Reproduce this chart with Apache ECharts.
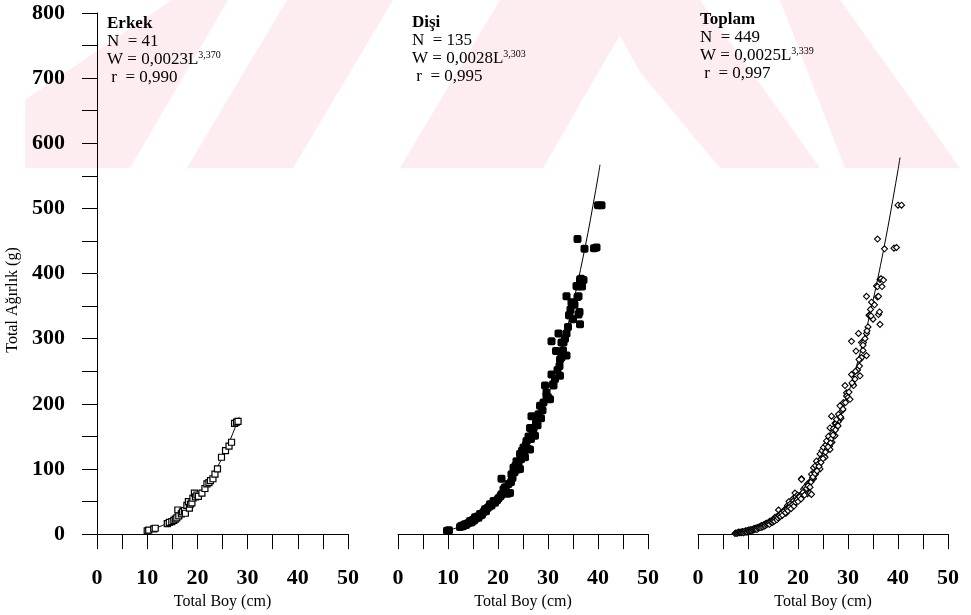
<!DOCTYPE html>
<html><head><meta charset="utf-8">
<script src="https://cdn.jsdelivr.net/npm/echarts@6/dist/echarts.min.js"></script>
<style>html,body{margin:0;padding:0;background:#fff}#c{width:971px;height:615px}</style>
</head><body><div id="c"></div>
<script>
// ---- data ----
const erkek = [[10.0,5],[10.3,6],[11.3,8],[11.6,9],[14.0,16],[14.4,18],[14.9,19],[15.3,21],[15.6,23],[15.9,25],[16.1,37],[16.3,28],[16.8,31],[17.0,34],[17.4,36],[17.6,32],[17.9,44],[18.2,50],[18.4,40],[18.6,46],[18.9,48],[19.1,55],[19.4,63],[19.6,57],[19.9,60],[20.2,58],[20.9,63],[21.5,70],[21.9,77],[22.3,79],[22.6,82],[23.1,85],[23.5,92],[24.0,100],[24.8,118],[25.6,128],[26.3,135],[26.8,141],[27.4,170],[27.8,172],[28.1,173]];
const disi = [[9.8,5],[10.2,6],[12.4,11],[12.7,13],[13.0,12],[13.2,14],[13.4,15],[13.6,14],[13.8,16],[14.1,17],[14.4,20],[14.6,18],[14.8,19],[15.0,22],[15.2,21],[15.4,26],[15.6,24],[15.9,27],[16.1,25],[16.4,31],[16.6,29],[16.8,30],[17.1,34],[17.4,38],[17.6,35],[17.9,40],[18.2,42],[18.4,46],[18.7,44],[19.1,51],[19.4,48],[19.8,52],[20.1,55],[20.5,58],[20.7,61],[20.7,85],[21.1,69],[21.4,72],[21.6,66],[21.9,62],[22.1,77],[22.4,63],[22.6,80],[22.7,92],[22.9,86],[23.1,102],[23.3,95],[23.5,105],[23.7,112],[23.9,99],[24.1,108],[24.4,100],[24.4,123],[24.6,115],[24.8,128],[25.1,133],[25.2,120],[25.4,118],[25.6,137],[25.7,143],[25.9,131],[26.1,150],[26.4,130],[26.4,163],[26.6,146],[26.7,181],[26.9,155],[27.1,162],[27.4,151],[27.6,170],[27.7,176],[27.9,167],[28.1,184],[28.4,197],[28.6,178],[28.9,190],[29.1,202],[29.4,228],[29.7,217],[29.7,212],[30.0,210],[30.4,207],[30.7,245],[30.7,296],[31.0,230],[31.1,228],[31.4,238],[31.6,281],[31.9,252],[32.1,308],[32.3,258],[32.4,268],[32.4,243],[32.7,271],[32.7,294],[33.0,282],[33.1,294],[33.4,300],[33.7,308],[33.7,274],[33.7,365],[34.0,318],[34.2,336],[34.3,336],[34.5,345],[34.7,356],[35.0,330],[35.3,352],[35.7,381],[35.9,364],[35.9,380],[36.1,337],[36.1,365],[36.3,341],[36.4,322],[36.4,391],[36.6,392],[36.8,380],[37.1,390],[35.9,453],[37.3,438],[39.2,439],[39.7,440],[40.0,505],[40.7,505]];
const cinsiyetsiz = [[7.4,1],[7.6,2],[7.8,1],[8.0,2],[8.1,3],[8.3,2],[8.4,3],[8.6,2],[8.7,3],[8.9,4],[9.0,3],[9.1,2],[9.3,4],[9.4,3],[9.5,5],[9.7,4],[9.8,3],[9.9,5],[10.1,6],[10.2,4],[10.3,5],[10.5,6],[10.6,7],[10.7,5],[10.9,7],[11.0,6],[11.1,8],[11.3,7],[11.4,9],[11.5,8],[11.7,9],[11.8,7],[11.9,10],[12.1,9],[12.2,11],[12.3,10],[12.5,12],[12.6,10],[12.8,13],[12.9,11],[13.1,14],[13.2,12],[13.4,13],[13.5,16],[13.7,15],[13.8,17],[14.0,16],[14.2,18],[14.3,15],[14.5,19],[14.7,20],[14.9,18],[15.0,21],[15.2,23],[15.3,20],[15.5,24],[15.7,26],[15.8,22],[16.0,25],[16.2,28],[16.5,27],[16.7,32],[16.9,29],[17.2,35],[17.5,33],[17.8,38],[18.0,36],[18.3,41],[18.6,39],[18.9,45],[19.2,43],[19.5,49],[19.8,53],[20.0,50],[20.3,57],[20.7,84],[20.6,54],[21.0,64],[21.3,60],[21.7,70],[22.0,74],[22.4,72],[22.7,61],[23.0,88],[23.4,93],[23.8,97],[24.2,104],[24.6,110],[25.0,116],[25.5,126],[26.0,134],[26.5,140],[27.0,152],[27.5,160],[28.0,166],[28.5,180],[29.0,192],[29.5,202],[30.2,218],[30.8,232],[31.5,250],[32.2,268],[33.0,290],[33.8,312],[34.6,335]];
const toplam = erkek.concat(disi, cinsiyetsiz);

// fitted curves as drawn (length, weight)
const erkekEgri = [[10,5.4],[12,10.0],[14,16.8],[16,26.3],[18,39.1],[20,55.8],[22,76.9],[24,103],[26,135],[28,173],[28.3,180]];
const disiEgri = [[10,5.6],[12,10.3],[14,17.1],[16,26.6],[18,39.2],[20,55.6],[22,76.1],[24,101],[26,132],[28,169],[30,212],[32,262],[34,321],[36,388],[38,463],[40,548],[40.4,567]];
const toplamEgri = [[7.5,2.1],[10,5.5],[12,10.0],[14,16.8],[16,26.2],[18,38.8],[20,55.3],[22,75.9],[24,101],[26,132],[28,170],[30,214],[32,266],[34,325],[36,394],[38,472],[40,559],[40.4,578]];

const xTickLabels = [0,10,20,30,40,50];
const yTickLabels = [0,100,200,300,400,500,600,700,800];

const F = "'Liberation Serif','Times New Roman',serif";
const chart = echarts.init(document.getElementById('c'), null, {renderer:'canvas'});

const grids = [
  {left:97, top:13, width:251, height:522},
  {left:398, top:13, width:250, height:522},
  {left:698, top:13, width:250, height:522}
];
function xAx(i){
  return {type:'value', gridIndex:i, min:0, max:50, interval:5,
    name:'Total Boy (cm)', nameLocation:'middle', nameGap:58,
    nameTextStyle:{fontFamily:F, fontSize:16, color:'#000'},
    axisLine:{show:true, onZero:false, lineStyle:{color:'#000', width:1}},
    axisTick:{show:true, length:15, lineStyle:{color:'#000', width:1}},
    axisLabel:{margin:33, fontFamily:F, fontSize:22, fontWeight:'bold', color:'#000',
      formatter:v=>xTickLabels.includes(v)?String(v):''},
    splitLine:{show:false}};
}
function yAx(i, show){
  return {type:'value', gridIndex:i, min:0, max:800, interval:50, show:show,
    axisLine:{show:true, lineStyle:{color:'#000', width:1}},
    axisTick:{show:true, length:15, lineStyle:{color:'#000', width:1}},
    axisLabel:{margin:32, fontFamily:F, fontSize:22, fontWeight:'bold', color:'#000',
      formatter:v=>yTickLabels.includes(v)?String(v):''},
    splitLine:{show:false}};
}
function ann(x, y, title, n, a, b, r){
  return {type:'text', left:x, top:y, z:10, style:{
    text:'{t|'+title+'}\n{n|N  = '+n+'}\n{n|W = '+a+'L}{s|'+b+'}\n{n| r  = '+r+'}',
    fill:'#000',
    rich:{
      t:{fontFamily:F, fontSize:17, fontWeight:'bold', lineHeight:18, fill:'#000'},
      n:{fontFamily:F, fontSize:17, lineHeight:18, fill:'#000'},
      s:{fontFamily:F, fontSize:10, lineHeight:18, padding:[0,0,9,0], fill:'#000'}
    }}};
}
const pink = '#fdedf0';
function poly(pts){ return {type:'polygon', z:-10, shape:{points:pts}, style:{fill:pink}, silent:true}; }

chart.setOption({
  animation:false,
  backgroundColor:'#fff',
  grid:grids,
  xAxis:[xAx(0), xAx(1), xAx(2)],
  yAxis:[yAx(0,true), yAx(1,false), yAx(2,false)],
  graphic:[
    poly([[25,168],[130,168],[228,0],[172,0],[25,100]]),
    poly([[187,168],[293,168],[393,0],[287,0]]),
    poly([[400,168],[543,168],[640,0],[500,0]]),
    poly([[600,0],[700,0],[820,168],[720,168],[640,72]]),
    poly([[780,0],[840,0],[960,168],[845,168]]),
    {type:'text', x:13, y:300, rotation:Math.PI/2, z:10,
      style:{text:'Total Ağırlık (g)', fontFamily:F, fontSize:16, fill:'#000', align:'center', verticalAlign:'middle'}},
    ann(107, 15, 'Erkek', '41', '0,0023', '3,370', '0,990'),
    ann(412, 14, 'Dişi', '135', '0,0028', '3,303', '0,995'),
    ann(700, 11, 'Toplam', '449', '0,0025', '3,339', '0,997')
  ],
  series:[
    {type:'line', xAxisIndex:0, yAxisIndex:0, data:erkekEgri, smooth:0.3, symbol:'none', lineStyle:{color:'#000', width:1}, z:3},
    {type:'scatter', xAxisIndex:0, yAxisIndex:0, data:erkek, symbol:'rect', symbolSize:6,
      itemStyle:{color:'#fff', borderColor:'#000', borderWidth:1.2, opacity:1}, z:4},
    {type:'line', xAxisIndex:1, yAxisIndex:1, data:disiEgri, smooth:0.3, symbol:'none', lineStyle:{color:'#000', width:1}, z:3},
    {type:'scatter', xAxisIndex:1, yAxisIndex:1, data:disi, symbol:'roundRect', symbolSize:8,
      itemStyle:{color:'#000', opacity:1}, z:4},
    {type:'line', xAxisIndex:2, yAxisIndex:2, data:toplamEgri, smooth:0.3, symbol:'none', lineStyle:{color:'#000', width:1}, z:3},
    {type:'scatter', xAxisIndex:2, yAxisIndex:2, data:toplam, symbol:'diamond', symbolSize:6,
      itemStyle:{color:'#fff', borderColor:'#000', borderWidth:1.1, opacity:1}, z:4}
  ]
});
</script></body></html>
